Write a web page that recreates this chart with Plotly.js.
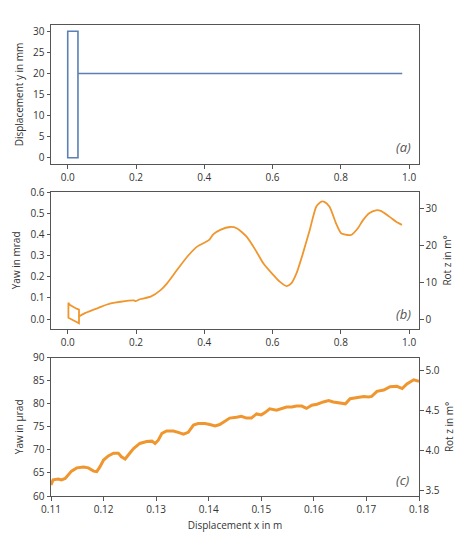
<!DOCTYPE html>
<html><head><meta charset="utf-8">
<script src="https://cdn.plot.ly/plotly-3.0.1.min.js"></script>
<style>body{margin:0;background:#fff}#plot{width:460px;height:539px}</style>
</head><body><div id="plot"></div>
<script>
// Panel (a): trajectory, displacement x (m) vs displacement y (mm)
const aX = [0.03, 0.03, 0.0, 0.0, 0.03, 0.03, 0.98];
const aY = [20, 30, 30, 0, 0, 20, 20];

// Panel (b): yaw (mrad) vs displacement x (m) — start loop
const bLoopX = [0.033, 0.033, 0.026, 0.020, 0.014, 0.010, 0.007, 0.004, 0.002, 0.002, 0.010, 0.020, 0.033, 0.033];
const bLoopY = [0.012, 0.045, 0.049, 0.054, 0.060, 0.064, 0.066, 0.072, 0.077, 0.006, 0.000, -0.008, -0.020, 0.012];
// Panel (b): main run
const bX = [0.033, 0.049, 0.078, 0.097, 0.126, 0.155, 0.194, 0.199, 0.205, 0.214, 0.243, 0.272, 0.291, 0.320,
  0.350, 0.379, 0.408, 0.415, 0.427, 0.447, 0.476, 0.495, 0.524, 0.553, 0.573, 0.602, 0.621, 0.641, 0.655,
  0.670, 0.689, 0.709, 0.728, 0.743, 0.752, 0.767, 0.786, 0.801, 0.820, 0.830, 0.850, 0.864, 0.883, 0.903,
  0.917, 0.942, 0.966, 0.979];
const bY = [0.012, 0.027, 0.046, 0.058, 0.074, 0.082, 0.088, 0.085, 0.089, 0.095, 0.106, 0.137, 0.169, 0.232,
  0.295, 0.343, 0.368, 0.376, 0.402, 0.422, 0.436, 0.430, 0.390, 0.319, 0.264, 0.209, 0.177, 0.156, 0.169,
  0.216, 0.311, 0.422, 0.532, 0.556, 0.555, 0.532, 0.453, 0.406, 0.398, 0.398, 0.430, 0.466, 0.501, 0.515,
  0.512, 0.485, 0.457, 0.446];

// Panel (c): yaw (µrad) vs displacement x (m), zoomed
const cX = [0.1100, 0.1104, 0.1114, 0.1120, 0.1127, 0.1133, 0.1139, 0.1149, 0.1162, 0.1171, 0.1181, 0.1187,
  0.1193, 0.1200, 0.1209, 0.1219, 0.1228, 0.1234, 0.1241, 0.1247, 0.1257, 0.1269, 0.1282, 0.1292, 0.1298,
  0.1304, 0.1311, 0.1320, 0.1333, 0.1342, 0.1352, 0.1361, 0.1371, 0.1380, 0.1393, 0.1402, 0.1412, 0.1421,
  0.1431, 0.1440, 0.1453, 0.1462, 0.1472, 0.1481, 0.1491, 0.1500, 0.1507, 0.1516, 0.1529, 0.1539, 0.1548,
  0.1558, 0.1567, 0.1577, 0.1586, 0.1596, 0.1606, 0.1618, 0.1628, 0.1637, 0.1650, 0.1660, 0.1669, 0.1682,
  0.1695, 0.1704, 0.1710, 0.1720, 0.1733, 0.1745, 0.1758, 0.1768, 0.1777, 0.1790, 0.1800];
const cY = [62.4, 63.5, 63.7, 63.5, 63.8, 64.6, 65.4, 66.1, 66.3, 66.1, 65.4, 65.3,
  66.3, 67.8, 68.7, 69.3, 69.3, 68.5, 68.0, 68.9, 70.3, 71.4, 71.8, 71.9, 71.4,
  72.1, 73.6, 74.1, 74.1, 73.8, 73.4, 73.8, 75.4, 75.7, 75.7, 75.5, 75.2, 75.5,
  76.2, 76.9, 77.1, 77.3, 76.9, 76.9, 77.8, 77.6, 78.1, 78.9, 78.6, 79.0, 79.3,
  79.3, 79.5, 79.5, 79.0, 79.7, 79.9, 80.4, 80.7, 80.4, 80.1, 80.0, 81.1, 81.3,
  81.6, 81.5, 81.6, 82.7, 83.0, 83.7, 83.8, 83.3, 84.3, 85.2, 84.9];

const DEG = 180 / Math.PI;
const blue = '#5a80b5', orange = '#f0962e';
const axc = '#555', txc = '#333';
const FONT = 'Open Sans, sans-serif';

const traces = [
  {x: aX, y: aY, xaxis: 'x', yaxis: 'y', mode: 'lines', line: {color: blue, width: 1.6}, hoverinfo: 'skip'},
  {x: bLoopX, y: bLoopY, xaxis: 'x2', yaxis: 'y2', mode: 'lines', line: {color: orange, width: 1.8}, hoverinfo: 'skip'},
  {x: bX, y: bY, xaxis: 'x2', yaxis: 'y2', mode: 'lines', line: {color: orange, width: 1.8, shape: 'spline', smoothing: 0.6}, hoverinfo: 'skip'},
  {x: bX, y: bY.map(v => v * DEG), xaxis: 'x2', yaxis: 'y4', mode: 'lines', line: {color: 'rgba(0,0,0,0)', width: 0}, hoverinfo: 'skip'},
  {x: cX, y: cY, xaxis: 'x3', yaxis: 'y3', mode: 'lines', line: {color: orange, width: 3}, hoverinfo: 'skip'},
  {x: cX, y: cY.map(v => v * DEG / 1000), xaxis: 'x3', yaxis: 'y5', mode: 'lines', line: {color: 'rgba(0,0,0,0)', width: 0}, hoverinfo: 'skip'}
];

const xd = [51 / 460, 419 / 460];
const common = {showline: true, linecolor: axc, linewidth: 1, mirror: true, ticks: 'outside', ticklen: 3.5,
  tickcolor: axc, showgrid: false, zeroline: false, tickfont: {family: FONT, size: 10, color: txc}, automargin: false};
const ttl = (t) => ({text: t, font: {family: FONT, size: 10, color: txc}, standoff: 7});

const layout = {
  width: 460, height: 539, showlegend: false,
  paper_bgcolor: '#fff', plot_bgcolor: '#fff',
  margin: {l: 0, r: 0, t: 0, b: 0},
  font: {family: FONT, size: 10, color: txc},
  xaxis: Object.assign({}, common, {domain: xd, anchor: 'y', range: [-0.049, 1.029], tickvals: [0, 0.2, 0.4, 0.6, 0.8, 1.0], tickformat: '.1f'}),
  yaxis: Object.assign({}, common, {domain: [1 - 164 / 539, 1 - 25 / 539], anchor: 'x', range: [-1.5, 31.5], tickvals: [0, 5, 10, 15, 20, 25, 30], title: ttl('Displacement y in mm')}),
  xaxis2: Object.assign({}, common, {domain: xd, anchor: 'y2', range: [-0.049, 1.029], tickvals: [0, 0.2, 0.4, 0.6, 0.8, 1.0], tickformat: '.1f'}),
  yaxis2: Object.assign({}, common, {domain: [1 - 329 / 539, 1 - 191.7 / 539], anchor: 'x2', range: [-0.047, 0.603], tickvals: [0, 0.1, 0.2, 0.3, 0.4, 0.5, 0.6], tickformat: '.1f', title: ttl('Yaw in mrad')}),
  yaxis4: Object.assign({}, common, {mirror: false, overlaying: 'y2', side: 'right', anchor: 'x2', range: [-0.047 * DEG, 0.603 * DEG], tickvals: [0, 10, 20, 30], title: ttl('Rot z in m°')}),
  xaxis3: Object.assign({}, common, {domain: xd, anchor: 'y3', range: [0.11, 0.18], tickvals: [0.11, 0.12, 0.13, 0.14, 0.15, 0.16, 0.17, 0.18], tickformat: '.2f', title: ttl('Displacement x in m')}),
  yaxis3: Object.assign({}, common, {domain: [1 - 496 / 539, 1 - 357.7 / 539], anchor: 'x3', range: [60, 90], tickvals: [60, 65, 70, 75, 80, 85, 90], title: ttl('Yaw in µrad')}),
  yaxis5: Object.assign({}, common, {mirror: false, overlaying: 'y3', side: 'right', anchor: 'x3', range: [60 * DEG / 1000, 90 * DEG / 1000], tickvals: [3.5, 4.0, 4.5, 5.0], tickformat: '.1f', title: ttl('Rot z in m°')}),
  annotations: [
    {text: '(a)', xref: 'x domain', yref: 'y domain', x: 0.959, y: 0.122, showarrow: false, xanchor: 'center', yanchor: 'middle', font: {family: FONT, size: 13, color: '#555', style: 'italic'}},
    {text: '(b)', xref: 'x2 domain', yref: 'y2 domain', x: 0.959, y: 0.109, showarrow: false, xanchor: 'center', yanchor: 'middle', font: {family: FONT, size: 13, color: '#555', style: 'italic'}},
    {text: '(c)', xref: 'x3 domain', yref: 'y3 domain', x: 0.957, y: 0.116, showarrow: false, xanchor: 'center', yanchor: 'middle', font: {family: FONT, size: 13, color: '#555', style: 'italic'}}
  ]
};

Plotly.newPlot('plot', traces, layout, {staticPlot: true, displayModeBar: false});
</script></body></html>
